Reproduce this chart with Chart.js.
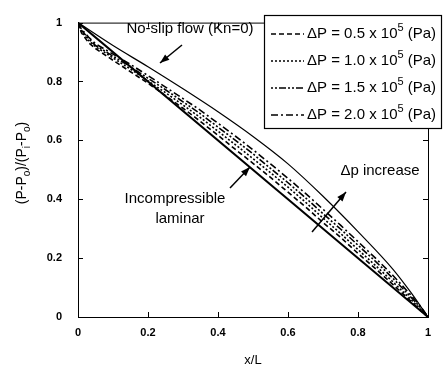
<!DOCTYPE html>
<html>
<head>
<title>Pressure distribution along microchannel</title>
<style>
  body { margin: 0; background: #fff; }
</style>
</head>
<body>
<canvas id="myChart" width="444" height="372"></canvas>
<script src="https://cdn.jsdelivr.net/npm/chart.js"></script>
<script>
// x/L positions of the measured curves
const xPos = [0, 0.01, 0.03, 0.05, 0.08, 0.1, 0.15, 0.2, 0.25, 0.3, 0.35, 0.4, 0.45, 0.5, 0.55, 0.6, 0.65, 0.7, 0.75, 0.8, 0.85, 0.9, 0.95, 0.98, 1];
// (P-Po)/(Pi-Po) for each pressure drop
const dp05 = [1, 0.965, 0.932, 0.912, 0.888, 0.872, 0.833, 0.794, 0.752, 0.709, 0.664, 0.617, 0.569, 0.522, 0.474, 0.424, 0.374, 0.321, 0.271, 0.216, 0.164, 0.110, 0.055, 0.021, 0];
const dp10 = [1, 0.970, 0.940, 0.918, 0.896, 0.880, 0.842, 0.802, 0.762, 0.720, 0.677, 0.631, 0.585, 0.538, 0.490, 0.441, 0.390, 0.336, 0.284, 0.229, 0.175, 0.119, 0.061, 0.025, 0];
const dp15 = [1, 0.974, 0.946, 0.922, 0.901, 0.886, 0.850, 0.811, 0.772, 0.731, 0.690, 0.645, 0.600, 0.554, 0.505, 0.456, 0.405, 0.351, 0.299, 0.244, 0.189, 0.131, 0.069, 0.030, 0];
const dp20 = [1, 0.978, 0.951, 0.928, 0.907, 0.893, 0.858, 0.820, 0.781, 0.742, 0.702, 0.658, 0.614, 0.568, 0.520, 0.471, 0.420, 0.366, 0.312, 0.256, 0.200, 0.141, 0.076, 0.034, 0];
const dpLabels = ['0.5', '1.0', '1.5', '2.0'];

// no-slip compressible flow (Kn=0)
const noSlipX = [0, 0.1, 0.2, 0.3, 0.4, 0.5, 0.6, 0.7, 0.8, 0.9, 0.95, 1];
const noSlipY = [1, 0.922, 0.85, 0.775, 0.697, 0.613, 0.52, 0.41, 0.29, 0.162, 0.085, 0];
// incompressible laminar flow
const lamX = [0, 1];
const lamY = [1, 0];

const xTicks = [0, 0.2, 0.4, 0.6, 0.8, 1];
const yTicks = [0, 0.2, 0.4, 0.6, 0.8, 1];

function pts(xs, ys) {
  return xs.map((x, i) => ({ x: x, y: ys[i] }));
}

const dashes = [[5, 3], [2, 2], [2, 2, 2, 2, 7, 2], [7, 3, 2, 3]];
const dpSeries = [dp05, dp10, dp15, dp20];

let datasets = [
  { label: 'No-slip', data: pts(noSlipX, noSlipY), borderColor: '#000', borderWidth: 1.2, cubicInterpolationMode: 'monotone' },
  { label: 'Incompressible', data: pts(lamX, lamY), borderColor: '#000', borderWidth: 2 }
];
dpSeries.forEach((s, i) => {
  datasets.push({
    label: 'ΔP = ' + dpLabels[i] + ' x 10^5 (Pa)',
    data: pts(xPos, s),
    borderColor: '#000',
    borderWidth: 1.6,
    borderDash: dashes[i]
  });
});

const FONT = '"Liberation Sans", Arial, sans-serif';

// text with sub/superscripts: parts = [[text, 'sub'|'sup'|'']]
function richWidth(ctx, parts, size) {
  let w = 0;
  parts.forEach(p => {
    ctx.font = (p[1] ? Math.round(size * 0.7) : size) + 'px ' + FONT;
    w += ctx.measureText(p[0]).width;
  });
  return w;
}
function drawRich(ctx, parts, x, y, size, align) {
  let w = richWidth(ctx, parts, size);
  let cx = align === 'center' ? x - w / 2 : x;
  ctx.textBaseline = 'middle';
  ctx.textAlign = 'left';
  parts.forEach(p => {
    let s = p[1] ? Math.round(size * 0.7) : size;
    ctx.font = s + 'px ' + FONT;
    let dy = p[1] === 'sub' ? size * 0.35 : (p[1] === 'sup' ? -size * 0.4 : 0);
    ctx.fillText(p[0], cx, y + dy);
    cx += ctx.measureText(p[0]).width;
  });
}
function arrow(ctx, x1, y1, x2, y2) {
  ctx.setLineDash([]);
  ctx.lineWidth = 1.5;
  ctx.beginPath();
  ctx.moveTo(x1, y1);
  ctx.lineTo(x2, y2);
  ctx.stroke();
  let a = Math.atan2(y2 - y1, x2 - x1);
  ctx.beginPath();
  ctx.moveTo(x2, y2);
  ctx.lineTo(x2 - 10 * Math.cos(a - 0.35), y2 - 10 * Math.sin(a - 0.35));
  ctx.lineTo(x2 - 10 * Math.cos(a + 0.35), y2 - 10 * Math.sin(a + 0.35));
  ctx.closePath();
  ctx.fill();
}

const extras = {
  id: 'extras',
  afterDraw(chart) {
    const ctx = chart.ctx;
    const a = chart.chartArea;
    const xs = chart.scales.x, ys = chart.scales.y;
    ctx.save();
    ctx.strokeStyle = '#000';
    ctx.fillStyle = '#000';
    ctx.lineWidth = 1;
    // top and right frame
    ctx.beginPath();
    ctx.moveTo(a.left, a.top + 0.5);
    ctx.lineTo(a.right + 0.5, a.top + 0.5);
    ctx.lineTo(a.right + 0.5, a.bottom);
    ctx.stroke();
    // inward ticks on all sides
    ctx.beginPath();
    xTicks.forEach(v => {
      let px = Math.round(xs.getPixelForValue(v)) + 0.5;
      ctx.moveTo(px, a.bottom); ctx.lineTo(px, a.bottom - 5);
      ctx.moveTo(px, a.top); ctx.lineTo(px, a.top + 5);
    });
    yTicks.forEach(v => {
      let py = Math.round(ys.getPixelForValue(v)) + 0.5;
      ctx.moveTo(a.left, py); ctx.lineTo(a.left + 5, py);
      ctx.moveTo(a.right, py); ctx.lineTo(a.right - 5, py);
    });
    ctx.stroke();

    // axis titles
    ctx.save();
    ctx.translate(22, 163);
    ctx.rotate(-Math.PI / 2);
    drawRich(ctx, [['(P-P', ''], ['o', 'sub'], [')/(P', ''], ['i', 'sub'], ['-P', ''], ['o', 'sub'], [')', '']], 0, 0, 14, 'center');
    ctx.restore();
    drawRich(ctx, [['x/L', '']], 253, 360, 13, 'center');

    // annotations
    drawRich(ctx, [['No-slip flow (Kn=0)', '']], 190, 29, 15, 'center');
    arrow(ctx, 182, 45, 160, 63);
    drawRich(ctx, [['Incompressible', '']], 175, 199, 15, 'center');
    drawRich(ctx, [['laminar', '']], 180, 219, 15, 'center');
    arrow(ctx, 230, 188, 250, 167);
    drawRich(ctx, [['Δp increase', '']], 380, 171, 15, 'center');
    arrow(ctx, 312, 232, 346, 192);

    // legend
    ctx.fillStyle = '#fff';
    ctx.fillRect(265, 16, 175, 113);
    ctx.fillStyle = '#000';
    ctx.lineWidth = 1.2;
    ctx.strokeRect(264.5, 15.5, 177, 113);
    const rows = [34, 61, 88, 115];
    dpLabels.forEach((lab, i) => {
      ctx.setLineDash(dashes[i]);
      ctx.lineWidth = 1.4;
      ctx.beginPath();
      ctx.moveTo(271, rows[i]);
      ctx.lineTo(304, rows[i]);
      ctx.stroke();
      ctx.setLineDash([]);
      drawRich(ctx, [['ΔP = ' + lab + ' x 10', ''], ['5', 'sup'], [' (Pa)', '']], 307, rows[i], 15, 'left');
    });
    ctx.restore();
  }
};

const ctx = document.getElementById('myChart');
new Chart(ctx, {
  type: 'line',
  data: { datasets: datasets },
  options: {
    responsive: false,
    animation: false,
    layout: { padding: { top: 9, right: 16, left: 0, bottom: 0 } },
    elements: { point: { radius: 0 }, line: { tension: 0 } },
    plugins: { legend: { display: false }, tooltip: { enabled: false } },
    scales: {
      x: {
        type: 'linear', min: 0, max: 1,
        afterBuildTicks: s => { s.ticks = xTicks.map(v => ({ value: v })); },
        afterFit: s => { s.height = 55; },
        grid: { display: false, drawTicks: false },
        border: { display: true, color: '#000', width: 1 },
        ticks: { color: '#000', padding: 9, font: { family: FONT, size: 11, weight: 'bold' }, callback: v => String(v) }
      },
      y: {
        type: 'linear', min: 0, max: 1,
        afterBuildTicks: s => { s.ticks = yTicks.map(v => ({ value: v })); },
        afterFit: s => { s.width = 78; },
        grid: { display: false, drawTicks: false },
        border: { display: true, color: '#000', width: 1 },
        ticks: { color: '#000', padding: 16, font: { family: FONT, size: 11, weight: 'bold' }, callback: v => String(v) }
      }
    }
  },
  plugins: [extras]
});
</script>
</body>
</html>
